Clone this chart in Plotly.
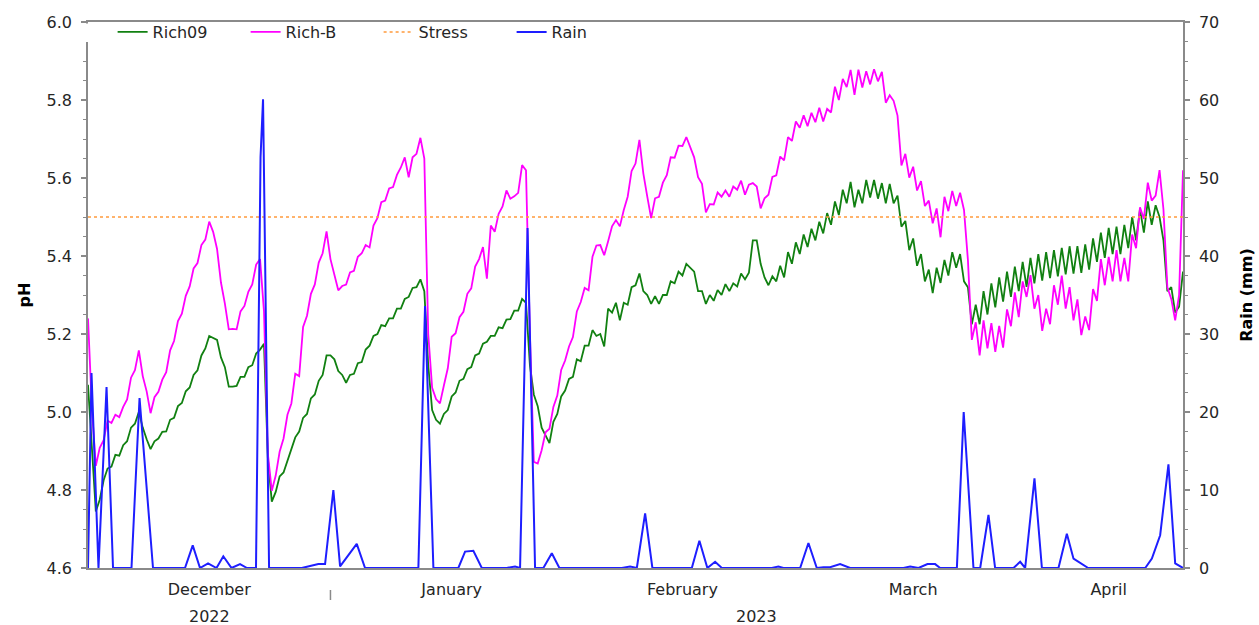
import pandas as pd
import plotly.graph_objects as go

# ---------------- data ----------------
start = pd.Timestamp("2022-12-01")
end = pd.Timestamp("2023-04-20")

# pH, 12-hourly readings from 2022-12-01 00:00
rich09 = [
    5.07, 4.905, 4.745, 4.775, 4.825, 4.855, 4.86, 4.89, 4.888, 4.915,
    4.925, 4.96, 4.97, 5.0, 4.96, 4.93, 4.905, 4.925, 4.932, 4.949,
    4.95, 4.98, 4.985, 5.015, 5.023, 5.053, 5.063, 5.095, 5.107, 5.145,
    5.163, 5.195, 5.19, 5.185, 5.14, 5.115, 5.065, 5.065, 5.067, 5.09,
    5.09, 5.115, 5.12, 5.15, 5.16, 5.175, 4.88, 4.77, 4.795, 4.835,
    4.845, 4.875, 4.9, 4.935, 4.95, 4.985, 4.995, 5.035, 5.045, 5.08,
    5.095, 5.145, 5.145, 5.135, 5.105, 5.095, 5.075, 5.095, 5.098, 5.125,
    5.128, 5.16, 5.17, 5.195, 5.2, 5.223, 5.22, 5.24, 5.24, 5.265,
    5.265, 5.29, 5.295, 5.318, 5.32, 5.34, 5.31, 5.12, 5.005, 4.98,
    4.97, 4.995, 5.005, 5.04, 5.05, 5.08, 5.085, 5.11, 5.115, 5.145,
    5.15, 5.175, 5.18, 5.195, 5.195, 5.217, 5.215, 5.237, 5.238, 5.26,
    5.26, 5.29, 5.28, 5.12, 5.045, 5.015, 4.96, 4.94, 4.92, 4.975,
    4.995, 5.04, 5.055, 5.085, 5.09, 5.135, 5.13, 5.17, 5.17, 5.21,
    5.195, 5.2, 5.168, 5.265, 5.255, 5.28, 5.235, 5.28, 5.275, 5.32,
    5.325, 5.355, 5.31, 5.3, 5.277, 5.297, 5.277, 5.3, 5.3, 5.335,
    5.33, 5.36, 5.35, 5.38, 5.37, 5.36, 5.31, 5.31, 5.277, 5.3,
    5.285, 5.313, 5.3, 5.328, 5.31, 5.33, 5.322, 5.355, 5.34, 5.357,
    5.44, 5.44, 5.38, 5.345, 5.325, 5.348, 5.335, 5.375, 5.345, 5.41,
    5.38, 5.435, 5.405, 5.455, 5.423, 5.47, 5.44, 5.488, 5.458, 5.51,
    5.48, 5.54, 5.505, 5.57, 5.535, 5.59, 5.525, 5.57, 5.535, 5.595,
    5.55, 5.595, 5.547, 5.587, 5.535, 5.585, 5.535, 5.555, 5.475, 5.49,
    5.415, 5.445, 5.375, 5.405, 5.335, 5.365, 5.305, 5.37, 5.331, 5.39,
    5.35, 5.41, 5.37, 5.405, 5.335, 5.32, 5.225, 5.275, 5.225, 5.31,
    5.25, 5.33, 5.268, 5.345, 5.283, 5.36, 5.295, 5.373, 5.31, 5.385,
    5.321, 5.395, 5.33, 5.405, 5.337, 5.41, 5.343, 5.415, 5.348, 5.421,
    5.353, 5.425, 5.355, 5.425, 5.357, 5.43, 5.365, 5.445, 5.385, 5.46,
    5.395, 5.472, 5.405, 5.475, 5.405, 5.48, 5.42, 5.5, 5.44, 5.52,
    5.46, 5.54, 5.48, 5.53, 5.5, 5.44, 5.31, 5.32, 5.255, 5.27,
    5.36,
]

rich_b = [
    5.24, 5.008, 4.862, 4.908, 4.928, 4.978, 4.972, 4.993, 4.987, 5.013,
    5.032, 5.088, 5.107, 5.158, 5.092, 5.053, 4.997, 5.038, 5.052, 5.083,
    5.102, 5.158, 5.182, 5.233, 5.252, 5.298, 5.322, 5.368, 5.382, 5.428,
    5.442, 5.488, 5.462, 5.418, 5.332, 5.278, 5.212, 5.213, 5.212, 5.258,
    5.272, 5.308, 5.327, 5.378, 5.392, 5.258, 4.892, 4.798, 4.837, 4.898,
    4.932, 4.993, 5.022, 5.098, 5.092, 5.218, 5.247, 5.303, 5.327, 5.383,
    5.407, 5.463, 5.392, 5.353, 5.312, 5.323, 5.327, 5.358, 5.362, 5.398,
    5.407, 5.428, 5.422, 5.478, 5.497, 5.538, 5.542, 5.573, 5.577, 5.608,
    5.627, 5.653, 5.602, 5.653, 5.662, 5.703, 5.65, 5.2, 5.062, 5.033,
    5.022, 5.068, 5.112, 5.193, 5.202, 5.243, 5.257, 5.303, 5.317, 5.373,
    5.392, 5.423, 5.342, 5.478, 5.462, 5.508, 5.527, 5.568, 5.547, 5.553,
    5.562, 5.633, 5.62, 5.2, 4.872, 4.868, 4.902, 4.948, 4.957, 5.013,
    5.042, 5.108, 5.132, 5.168, 5.192, 5.258, 5.282, 5.318, 5.312, 5.398,
    5.427, 5.428, 5.402, 5.438, 5.476, 5.492, 5.476, 5.518, 5.552, 5.618,
    5.637, 5.698, 5.612, 5.553, 5.497, 5.548, 5.552, 5.588, 5.607, 5.653,
    5.652, 5.683, 5.682, 5.705, 5.677, 5.653, 5.602, 5.585, 5.512, 5.533,
    5.532, 5.563, 5.552, 5.568, 5.552, 5.578, 5.57, 5.593, 5.557, 5.583,
    5.587, 5.578, 5.522, 5.548, 5.557, 5.603, 5.607, 5.655, 5.645, 5.705,
    5.695, 5.745, 5.729, 5.761, 5.733, 5.767, 5.743, 5.78, 5.745, 5.777,
    5.768, 5.834, 5.8, 5.854, 5.833, 5.877, 5.813, 5.878, 5.832, 5.874,
    5.84, 5.879, 5.848, 5.872, 5.793, 5.812, 5.798, 5.76, 5.632, 5.662,
    5.601, 5.629, 5.568, 5.592, 5.528, 5.542, 5.484, 5.522, 5.448, 5.552,
    5.515, 5.567, 5.528, 5.562, 5.518, 5.39, 5.185, 5.23, 5.145, 5.235,
    5.163, 5.228, 5.154, 5.221, 5.165, 5.263, 5.22, 5.307, 5.243, 5.335,
    5.295, 5.351, 5.265, 5.3, 5.208, 5.265, 5.225, 5.325, 5.275, 5.35,
    5.265, 5.32, 5.235, 5.289, 5.197, 5.245, 5.21, 5.315, 5.285, 5.392,
    5.325, 5.398, 5.335, 5.415, 5.335, 5.395, 5.335, 5.455, 5.42, 5.525,
    5.495, 5.588, 5.542, 5.555, 5.62, 5.52, 5.32, 5.29, 5.235, 5.3,
    5.62,
]

stress_level = 5.5

# rain: days after 2022-12-01 and mm
rain_day = [
    0.00, 0.45, 1.34, 2.37, 3.20, 5.56, 6.59, 8.31, 12.40, 13.39,
    14.32, 15.35, 16.43, 17.30, 18.35, 19.44, 20.33, 21.48, 22.06, 22.38,
    23.15, 27.33, 29.45, 30.31, 31.37, 32.23, 34.36, 35.42, 42.24, 43.09,
    44.16, 47.35, 48.21, 49.27, 50.35, 53.54, 54.60, 55.24, 56.20, 57.16,
    58.22, 59.30, 60.27, 68.25, 69.31, 70.17, 71.23, 72.16, 77.20, 78.17,
    79.19, 80.18, 81.04, 87.43, 88.27, 88.91, 91.05, 92.11, 93.18, 94.03,
    94.88, 96.16, 97.44, 104.26, 105.12, 106.18, 107.33, 108.31, 108.95, 111.09,
    111.96, 113.21, 114.07, 115.13, 115.98, 118.33, 119.18, 119.82, 121.01, 121.96,
    124.08, 125.15, 126.00, 127.71, 127.88, 135.17, 136.02, 137.08, 138.14, 139.00,
    140.00,
]
rain_mm = [
    0, 25.0, 0, 23.2, 0, 0, 21.8, 0, 0, 2.9,
    0, 0.6, 0, 1.5, 0, 0.5, 0, 0, 52.7, 60.1,
    0, 0, 0.5, 0.5, 10.0, 0.2, 3.1, 0, 0, 33.6,
    0, 0, 2.1, 2.2, 0, 0, 0.2, 0, 43.6, 0,
    0, 1.9, 0, 0, 0.2, 0, 7.0, 0, 0, 3.5,
    0, 0.8, 0, 0, 0.2, 0, 0, 3.2, 0, 0.1,
    0.1, 0.5, 0, 0, 0.2, 0, 0.5, 0.5, 0, 0,
    20.0, 0, 0, 6.8, 0, 0, 0.8, 0, 11.5, 0,
    0, 4.4, 1.2, 0.1, 0, 0, 1.2, 4.2, 13.3, 0.6,
    0,
]

# ---------------- derived ----------------
ph_times = pd.date_range(start, periods=len(rich09), freq="12h")
rain_times = [start + pd.Timedelta(days=d) for d in rain_day]

month_starts = list(pd.date_range(start, end, freq="MS"))
month_centers, month_names = [], []
for ms in month_starts:
    nxt = ms + pd.offsets.MonthBegin(1)
    a, b = max(ms, start), min(nxt, end)
    month_centers.append(a + (b - a) / 2)
    month_names.append(ms.strftime("%B"))

year_bounds = [pd.Timestamp("2023-01-01")]
years = [2022, 2023]
year_centers = []
for y in years:
    a = max(pd.Timestamp(f"{y}-01-01"), start)
    b = min(pd.Timestamp(f"{y + 1}-01-01"), end)
    year_centers.append(a + (b - a) / 2)

# ---------------- figure ----------------
FONT = "DejaVu Sans"
TXT = "#262626"
AX = "#8a8a8a"
tickfont = dict(family=FONT, size=16, color=TXT)

fig = go.Figure()
fig.add_trace(go.Scatter(x=ph_times, y=rich09, name="Rich09", mode="lines",
                         line=dict(color="#118011", width=1.8)))
fig.add_trace(go.Scatter(x=ph_times, y=rich_b, name="Rich-B", mode="lines",
                         line=dict(color="#ff00ff", width=1.8)))
fig.add_trace(go.Scatter(x=[start, end], y=[stress_level, stress_level], name="Stress",
                         mode="lines", line=dict(color="#ff9a3c", width=1.5, dash="dot")))
fig.add_trace(go.Scatter(x=rain_times, y=rain_mm, name="Rain", mode="lines", yaxis="y2",
                         line=dict(color="#1e1eff", width=2)))

fig.update_layout(
    width=1259, height=625,
    margin=dict(l=88, r=76, t=22, b=57, pad=0, autoexpand=False),
    plot_bgcolor="white", paper_bgcolor="white",
    font=dict(family=FONT, size=16, color=TXT),
    showlegend=True,
    legend=dict(orientation="h", x=-0.004, y=1.0128, xanchor="left", yanchor="top",
                bgcolor="rgba(0,0,0,0)", font=dict(family=FONT, size=16, color=TXT),
                entrywidth=59, entrywidthmode="pixels", indentation=29, itemclick=False),
    xaxis=dict(type="date", range=[start, end], tickvals=month_centers, ticktext=month_names,
               ticks="", showline=True, linecolor=AX, linewidth=1.5, mirror=True, automargin=False,
               showgrid=False, zeroline=False, ticklabelstandoff=6, tickfont=tickfont),
    xaxis2=dict(type="date", overlaying="x", anchor="y", side="bottom", range=[start, end],
                tickvals=month_starts, ticks="outside", ticklen=4, tickwidth=1.5, tickcolor=AX,
                automargin=False,
                showticklabels=False, showgrid=False, showline=False, zeroline=False),
    yaxis=dict(range=[4.6, 6.0], tick0=4.6, dtick=0.2, tickformat=".1f", automargin=False,
               ticks="outside", ticklen=5, tickwidth=1.5, tickcolor=AX,
               minor=dict(dtick=0.05, ticks="outside", ticklen=3, tickwidth=1.2, tickcolor=AX),
               showline=True, linecolor=AX, linewidth=1.5, showgrid=False, zeroline=False,
               tickfont=tickfont, ticklabelstandoff=6,
               title=dict(text="<b>pH</b>", font=dict(family=FONT, size=16, color="#000"), standoff=12)),
    yaxis2=dict(overlaying="y", side="right", anchor="x", range=[0, 70], tick0=0, dtick=10,
                automargin=False,
                ticks="outside", ticklen=5, tickwidth=1.5, tickcolor=AX,
                minor=dict(dtick=2.5, ticks="outside", ticklen=3, tickwidth=1.2, tickcolor=AX),
                showline=True, linecolor=AX, linewidth=1.5, showgrid=False, zeroline=False,
                tickfont=tickfont, ticklabelstandoff=6,
                title=dict(text="<b>Rain (mm)</b>", font=dict(family=FONT, size=16, color="#000"), standoff=22)),
    yaxis3=dict(overlaying="y", side="left", anchor="x", range=[4.6, 6.0], tick0=4.6, dtick=0.2,
                automargin=False,
                ticks="inside", ticklen=4, tickwidth=1.5, tickcolor=AX,
                minor=dict(dtick=0.05, ticks="inside", ticklen=2, tickwidth=1.2, tickcolor=AX),
                showticklabels=False, showline=False, showgrid=False, zeroline=False),
    yaxis4=dict(overlaying="y", side="right", anchor="x", range=[0, 70], tick0=0, dtick=10,
                automargin=False,
                ticks="inside", ticklen=4, tickwidth=1.5, tickcolor=AX,
                minor=dict(dtick=2.5, ticks="inside", ticklen=2, tickwidth=1.2, tickcolor=AX),
                showticklabels=False, showline=False, showgrid=False, zeroline=False),
)

for yc, yr in zip(year_centers, years):
    fig.add_annotation(x=yc, y=0, xref="x", yref="paper", text=str(yr), showarrow=False,
                       yanchor="middle", yshift=-48, font=dict(family=FONT, size=16, color=TXT))

for yb in year_bounds:
    fig.add_shape(type="line", xref="x", x0=yb, x1=yb, yref="paper", ysizemode="pixel",
                  yanchor=0, y0=-22, y1=-32, line=dict(color=AX, width=1.5))

# white patch where the legend hides the top of the left axis line
fig.add_shape(type="rect", xref="paper", x0=-0.006, x1=0.006, yref="paper", ysizemode="pixel",
              yanchor=1, y0=-1.5, y1=-20, fillcolor="white", line=dict(width=0), layer="above")

fig.write_html("out.html", config={"displayModeBar": False},
               post_script="document.body.style.margin='0px';document.body.style.overflow='hidden';")
